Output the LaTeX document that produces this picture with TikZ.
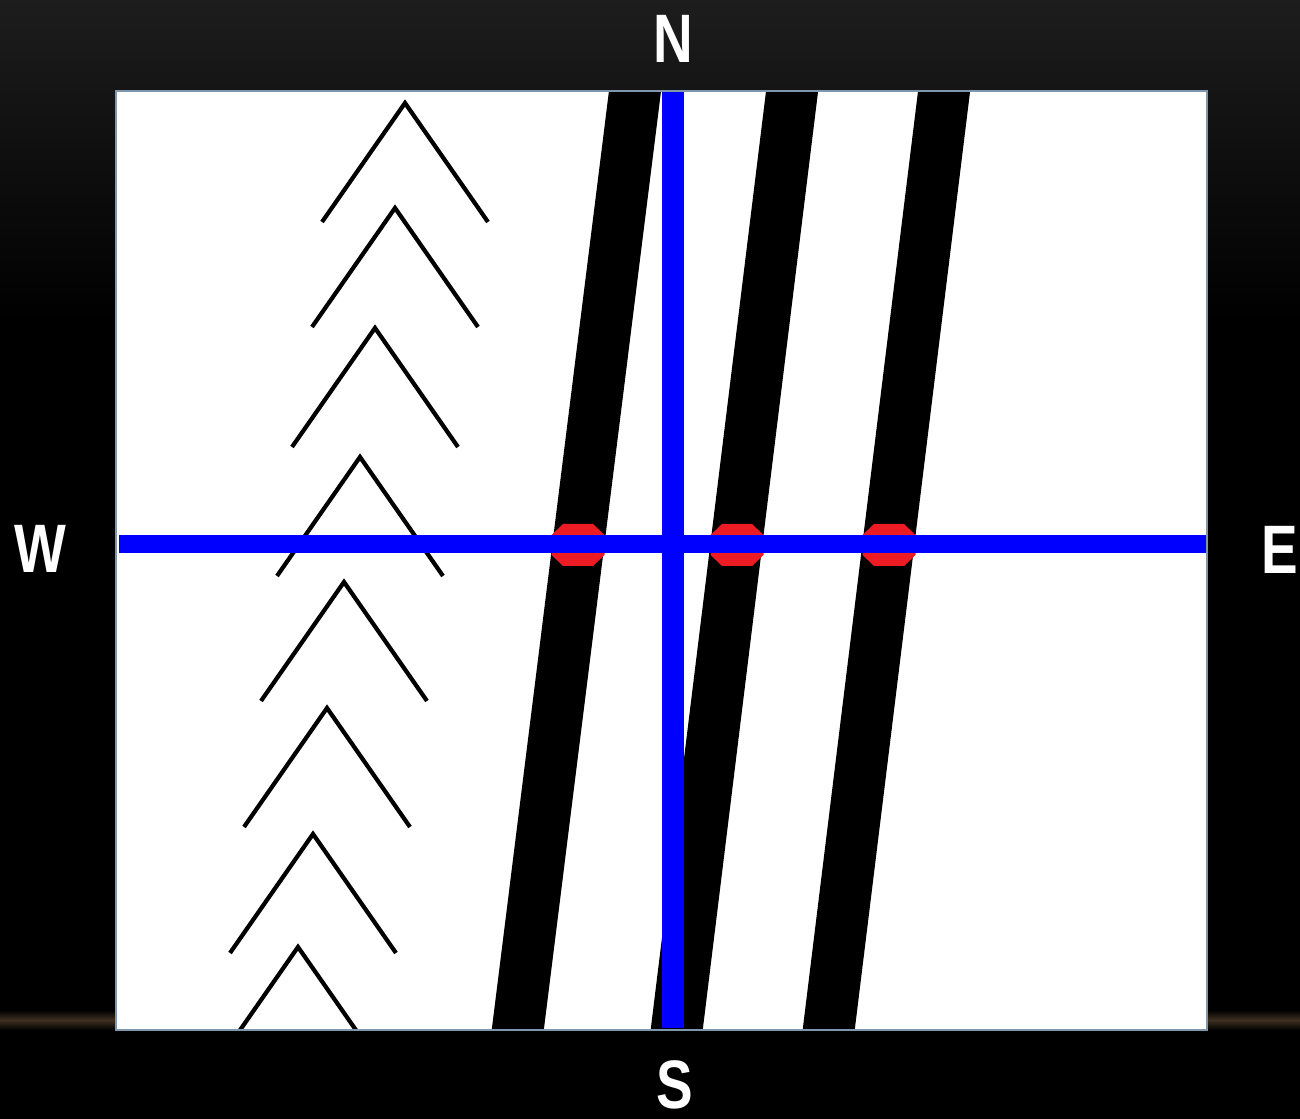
\documentclass[tikz,border=0pt]{standalone}
\usepackage{fontspec}
\setmainfont{Liberation Sans}
\usetikzlibrary{positioning}

\definecolor{bgtop}{HTML}{1D1D1D}
\definecolor{glow}{HTML}{3E3020}
\definecolor{framegray}{HTML}{7F97AD}
\definecolor{axisblue}{HTML}{0000FF}
\definecolor{markred}{HTML}{ED1C24}

\begin{document}
\begin{tikzpicture}[
    x=0.01cm, y=-0.01cm,
    every node/.style={font=\fontsize{19.5}{20}\selectfont\bfseries, text=white, inner sep=0pt},
    compass/.style={xscale=0.8},
    frame/.style={draw=framegray, line width=0.6pt},
    band/.style={line width=14.7pt},
    chevron/.style={line width=1.2pt},
    axis/.style={draw=axisblue},
    marker/.style={fill=markred}
  ]

  % background
  \fill[black] (0,0) rectangle (1300,1119);
  \shade[top color=bgtop, bottom color=black] (0,0) rectangle (1300,320);
  \shade[top color=black, bottom color=black, middle color=glow] (0,1010) rectangle (1300,1030);
  \useasboundingbox (0,0) rectangle (1300,1119);

  \fill[white] (116,91) rectangle (1207,1030);

  \begin{scope}
    \clip (117,92) rectangle (1206,1028);

    % fold chevrons
    \foreach \x/\y in {405/103, 395/208, 375/328, 360/457, 344/582, 327/708, 313/834, 298/947}
      \draw[chevron] (\x-83,\y+119) -- (\x,\y) -- (\x+83,\y+119);

    % dipping beds
    \foreach \t/\b in {640/513, 797/672, 949/824}
      \draw[band] (\t,51) -- (\b,1068);

    % outcrop markers
    \foreach \x in {578, 737, 889}
      \fill[marker] (\x-15,524) -- (\x+15,524) -- (\x+26.5,535) -- (\x+26.5,555)
        -- (\x+15,566) -- (\x-15,566) -- (\x-26.5,555) -- (\x-26.5,535) -- cycle;
  \end{scope}

  % section lines
  \coordinate (top) at (673,91);
  \coordinate (bottom) at (673,1028);
  \coordinate (west) at (119,544);
  \coordinate (east) at (1207,544);
  \draw[axis, line width=5.1pt] (west) -- (east);
  \draw[axis, line width=6.3pt] (top) -- (bottom);

  \draw[frame] (116,91) rectangle (1207,1030);

  \node[compass] (n) at (673,39) {N};
  \node[compass] (s) at (675,1085) {S};
  \node[compass] (w) at (40,549) {W};
  \node[compass] (e) at (1280,550) {E};

\end{tikzpicture}
\end{document}
